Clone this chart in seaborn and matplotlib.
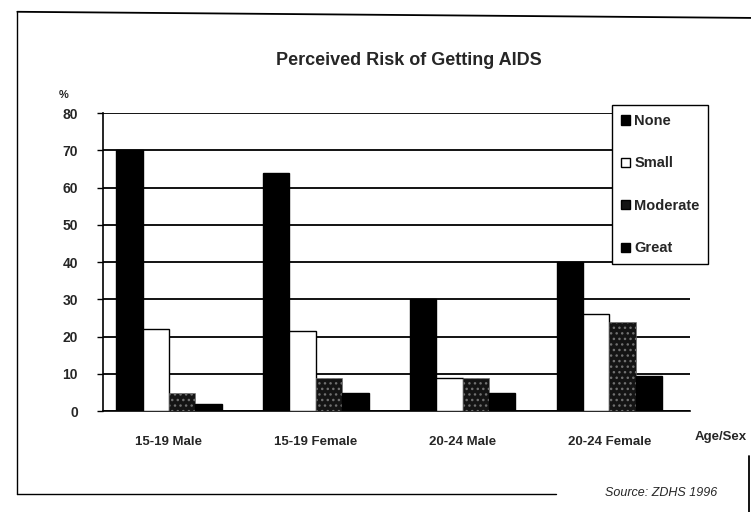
import matplotlib.pyplot as plt
import pandas as pd
import seaborn as sns
from matplotlib.lines import Line2D

groups = ["15-19 Male", "15-19 Female", "20-24 Male", "20-24 Female"]
levels = ["None", "Small", "Moderate", "Great"]
none_vals = [70, 64, 30, 40]
small_vals = [22, 21.5, 9, 26]
moderate_vals = [5, 9, 9, 24]
great_vals = [2, 5, 5, 9.5]
yticks = [0, 10, 20, 30, 40, 50, 60, 70, 80]

rows = []
for lvl, vals in zip(levels, [none_vals, small_vals, moderate_vals, great_vals]):
    for g, v in zip(groups, vals):
        rows.append({"group": g, "risk": lvl, "pct": v})
df = pd.DataFrame(rows)

sns.set_theme(style="white")
plt.rcParams['font.family'] = ['Liberation Sans', 'DejaVu Sans']

fig = plt.figure(figsize=(7.51, 5.12), dpi=100)
ax = fig.add_axes([0.137, 0.197, 0.782, 0.582])

palette = {"None": "black", "Small": "white", "Moderate": "#141414", "Great": "black"}
sns.barplot(data=df, x="group", y="pct", hue="risk", order=groups, hue_order=levels,
            palette=palette, edgecolor="black", linewidth=1, width=0.72,
            saturation=1, ax=ax, zorder=3)

for bar in ax.containers[2]:
    bar.set_hatch("...")
    bar.set_edgecolor("#707070")
    bar.set_linewidth(0.4)

ax.set_xlim(-0.45, 3.55)
ax.set_ylim(0, 80)
ax.set_yticks(yticks)
ax.yaxis.grid(True, color="black", linewidth=1.3, zorder=0)
ax.set_axisbelow(True)
ax.tick_params(axis="y", left=True, length=4, width=1, color="black", pad=14,
               labelsize=10)
ax.tick_params(axis="x", bottom=False, pad=12, labelsize=9.5)
for lbl in ax.get_yticklabels() + ax.get_xticklabels():
    lbl.set_fontweight("bold")
ax.set_xlabel("")
ax.set_ylabel("")
for side in ["top", "right"]:
    ax.spines[side].set_visible(False)
for side in ["left", "bottom"]:
    ax.spines[side].set_color("black")
    ax.spines[side].set_linewidth(1.2)

leg = ax.legend(loc="upper left", bbox_to_anchor=(605 / 751, 1 - 98 / 512),
                bbox_transform=fig.transFigure, frameon=True, fancybox=False,
                framealpha=1, handlelength=0.6, handleheight=0.6, handletextpad=0.3,
                labelspacing=1.95, borderpad=0.6, prop={"weight": "bold", "size": 10.5})
leg.get_frame().set_edgecolor("black")
leg.get_frame().set_linewidth(1)
leg.set_zorder(5)

fig.text(0.545, 0.882, "Perceived Risk of Getting AIDS", ha="center", va="center",
         fontsize=13, fontweight="bold")
fig.text(0.078, 0.815, "%", ha="left", va="center", fontsize=8, fontweight="bold")
fig.text(0.96, 0.147, "Age/Sex", ha="center", va="center", fontsize=9.5, fontweight="bold")
fig.text(0.955, 0.037, "Source: ZDHS 1996", ha="right", va="center", fontsize=9,
         style="italic")

# scanned page frame
fig.add_artist(Line2D([0.023, 0.023], [0.035, 0.977], color="black", linewidth=1))
fig.add_artist(Line2D([0.023, 1.0], [0.977, 0.965], color="black", linewidth=1.3))
fig.add_artist(Line2D([0.023, 0.74], [0.035, 0.035], color="black", linewidth=1))
fig.add_artist(Line2D([0.998, 0.998], [0.0, 0.11], color="black", linewidth=1.3))

fig.savefig("out.png", dpi=100)
